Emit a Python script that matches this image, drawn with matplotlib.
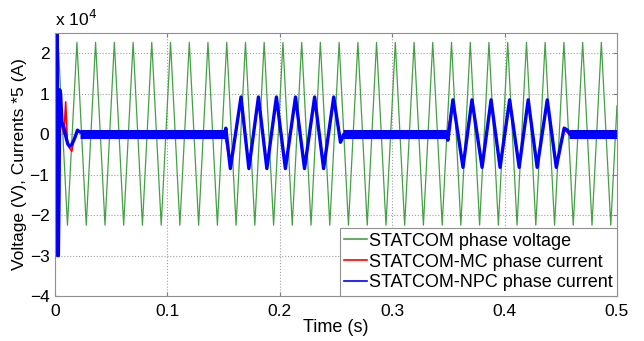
import matplotlib.pyplot as plt

plt.rcParams['font.family'] = ['Liberation Sans', 'DejaVu Sans']

# All values in units of 1e4 (see "x 10^4" label)
# Phase voltage: times (s) of the extremes
voltage_t = [0.0, 0.0028, 0.0111, 0.0195, 0.0278, 0.0361, 0.0445, 0.0528, 0.0611,
             0.0695, 0.0778, 0.0861, 0.0945, 0.1028, 0.1111, 0.1195, 0.1278, 0.1361,
             0.1445, 0.1528, 0.1611, 0.1695, 0.1778, 0.1861, 0.1945, 0.2028, 0.2111,
             0.2195, 0.2278, 0.2361, 0.2445, 0.2528, 0.2611, 0.2695, 0.2778, 0.2861,
             0.2945, 0.3028, 0.3111, 0.3195, 0.3278, 0.3361, 0.3445, 0.3528, 0.3611,
             0.3695, 0.3778, 0.3861, 0.3945, 0.4028, 0.4111, 0.4195, 0.4278, 0.4361,
             0.4445, 0.4528, 0.4611, 0.4695, 0.4778, 0.4861, 0.4945, 0.5]
voltage_v = [0.7] + [2.27, -2.25] * 30 + [0.7]

# NPC phase current (x5)
npc_t = [0.0, 0.0004, 0.0008, 0.0012, 0.0016, 0.0020, 0.0024, 0.0030, 0.0036, 0.0042,
         0.0050, 0.0062, 0.0080, 0.0100, 0.0115, 0.0130, 0.0150, 0.0175, 0.0200, 0.0225,
         0.1510, 0.1520, 0.1560, 0.1655, 0.1725, 0.1810, 0.1885, 0.1970, 0.2050,
         0.2140, 0.2220, 0.2310, 0.2390, 0.2480, 0.2540, 0.2570,
         0.3480, 0.3496, 0.3540, 0.3630, 0.3710, 0.3800, 0.3880, 0.3960, 0.4045,
         0.4130, 0.4210, 0.4290, 0.4380, 0.4460, 0.4530, 0.4560, 0.4580, 0.5]
npc_v = [0.0, 2.6, -0.5, 2.6, -1.0, 2.6, -3.0, -3.0, -1.5, 1.1,
         1.0, 0.3, 0.15, -0.1, -0.25, -0.3, -0.25, -0.1, 0.1, 0.05,
         0.0, 0.15, -0.85, 0.92, -0.85, 0.92, -0.85, 0.92, -0.85,
         0.92, -0.85, 0.92, -0.85, 0.92, -0.2, 0.0,
         0.0, -0.15, 0.85, -0.82, 0.85, -0.82, 0.85, -0.82, 0.85,
         -0.82, 0.85, -0.82, 0.85, -0.82, 0.15, 0.1, 0.0, 0.0]
npc_steady = [(0.0225, 0.151), (0.256, 0.349), (0.457, 0.5)]

# MC phase current (x5)
mc_t = [0.0, 0.002, 0.004, 0.006, 0.008, 0.0095, 0.011, 0.013, 0.015, 0.017, 0.020,
        0.151, 0.156, 0.1655, 0.1725, 0.181, 0.1885, 0.197, 0.205, 0.214, 0.222,
        0.231, 0.239, 0.248, 0.254, 0.257,
        0.349, 0.354, 0.363, 0.371, 0.380, 0.388, 0.396, 0.4045, 0.413, 0.421,
        0.429, 0.438, 0.446, 0.453, 0.458, 0.5]
mc_v = [0.0, 0.9, 0.4, 0.2, 0.0, 0.8, -0.2, -0.35, -0.42, -0.1, 0.05,
        0.0, -0.8, 0.85, -0.8, 0.85, -0.8, 0.85, -0.8, 0.85, -0.8,
        0.85, -0.8, 0.85, -0.1, 0.0,
        0.0, 0.8, -0.78, 0.8, -0.78, 0.8, -0.78, 0.8, -0.78, 0.8,
        -0.78, 0.8, -0.78, 0.1, 0.0, 0.0]

green = '#44a044'

fig = plt.figure(figsize=(6.44, 3.41), dpi=100)
ax = fig.add_axes([0.0854, 0.132, 0.8726, 0.771])

ax.plot(voltage_t, voltage_v, color=green, lw=0.9, label='STATCOM phase voltage')
ax.plot(mc_t, mc_v, color='#ff0000', lw=1.2, label='STATCOM-MC phase current')
ax.plot(npc_t, npc_v, color='#0000ff', lw=2.4, label='STATCOM-NPC phase current')
for t0, t1 in npc_steady:
    ax.plot([t0, t1], [0.0, 0.0], color='#0000ff', lw=6.5, solid_capstyle='butt')

ax.set_xlim(0, 0.5)
ax.set_ylim(-4, 2.5)
ax.set_xticks([0, 0.1, 0.2, 0.3, 0.4, 0.5])
ax.set_xticklabels(['0', '0.1', '0.2', '0.3', '0.4', '0.5'])
ax.set_yticks([-4, -3, -2, -1, 0, 1, 2])
ax.grid(True, color='#a0a0a0', linestyle=':', lw=0.8)
ax.tick_params(direction='in', top=True, right=True, length=3, labelsize=12.5,
               color='#808080')
ax.tick_params(axis='x', pad=6)
ax.tick_params(axis='y', pad=4)
for s in ax.spines.values():
    s.set_color('#909090')

ax.text(0.0, 1.015, r'x 10$^4$', transform=ax.transAxes, fontsize=12.5,
        ha='left', va='bottom')
ax.set_xlabel('Time (s)', fontsize=13, labelpad=0)
ax.set_ylabel('Voltage (V), Currents *5 (A)', fontsize=12.5, labelpad=2)

leg = ax.legend(loc='lower right', fontsize=13, borderaxespad=0, fancybox=False,
                edgecolor='#909090', framealpha=1, handlelength=1.25,
                handletextpad=0.1, labelspacing=0.22, borderpad=0.25)
leg.get_frame().set_linewidth(0.8)
for h in leg.get_lines():
    h.set_linewidth(1.2)

fig.savefig('out.png', dpi=100)
